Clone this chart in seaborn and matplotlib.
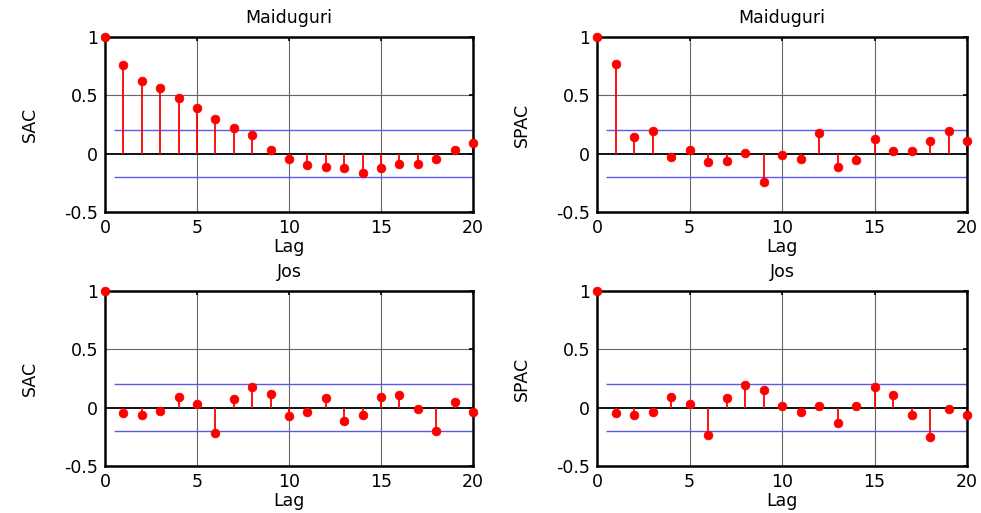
import numpy as np
import pandas as pd
import matplotlib
matplotlib.use('Agg')
import matplotlib.pyplot as plt
import seaborn as sns

sns.set_style('white')
plt.rcParams['font.family'] = ['DejaVu Sans']
plt.rcParams['text.color'] = 'black'
plt.rcParams['axes.labelcolor'] = 'black'

lags = list(range(21))

# Maiduguri
maid_sac = [1.0, 0.76, 0.62, 0.56, 0.48, 0.39, 0.30, 0.22, 0.16, 0.03,
            -0.045, -0.095, -0.11, -0.12, -0.165, -0.12, -0.09, -0.09, -0.045, 0.035, 0.09]
maid_spac = [1.0, 0.77, 0.14, 0.195, -0.025, 0.035, -0.075, -0.065, 0.01, -0.24,
             -0.01, -0.045, 0.175, -0.11, -0.055, 0.13, 0.02, 0.02, 0.11, 0.195, 0.11]

# Jos
jos_sac = [1.0, -0.05, -0.06, -0.03, 0.095, 0.03, -0.22, 0.075, 0.18, 0.115,
           -0.07, -0.04, 0.085, -0.115, -0.06, 0.095, 0.105, -0.015, -0.2, 0.05, -0.035]
jos_spac = [1.0, -0.05, -0.06, -0.035, 0.095, 0.03, -0.235, 0.085, 0.19, 0.15,
            0.01, -0.035, 0.01, -0.135, 0.01, 0.18, 0.105, -0.06, -0.255, -0.015, -0.06]

conf_bound = 0.2

panels = [
    ('Maiduguri', 'SAC', maid_sac),
    ('Maiduguri', 'SPAC', maid_spac),
    ('Jos', 'SAC', jos_sac),
    ('Jos', 'SPAC', jos_spac),
]

fig = plt.figure(figsize=(9.81, 5.13), dpi=100)
W, H = 981, 513
boxes = [(105, 37, 473, 212), (597, 37, 967, 212),
         (105, 291, 473, 466), (597, 291, 967, 466)]

for (title, ylab, vals), (l, t, r, b) in zip(panels, boxes):
    ax = fig.add_axes([l / W, 1 - b / H, (r - l) / W, (b - t) / H])
    df = pd.DataFrame({'Lag': lags, 'val': vals})

    # grid like matlab
    for gx in [5, 10, 15]:
        ax.axvline(gx, color='#666666', lw=0.8, zorder=0)
    ax.axhline(0.5, color='#666666', lw=0.8, zorder=0)

    ax.axhline(0, color='black', lw=1.3, zorder=1)
    ax.hlines([conf_bound, -conf_bound], 0.5, 20, color='#5b5bf0', lw=1.0, zorder=1)
    ax.vlines(df['Lag'], 0, df['val'], color='red', lw=1.3, zorder=2)
    sns.scatterplot(data=df, x='Lag', y='val', color='red', edgecolor='red',
                    s=40, ax=ax, zorder=3, clip_on=False, legend=False)

    ax.set_xlim(0, 20)
    ax.set_ylim(-0.5, 1)
    ax.set_xticks([0, 5, 10, 15, 20])
    ax.set_yticks([-0.5, 0, 0.5, 1])
    ax.set_yticklabels(['-0.5', '0', '0.5', '1'])
    ax.tick_params(direction='in', length=3, width=1.2, labelsize=12.5,
                   top=True, right=True, colors='black')
    ax.tick_params(axis='x', pad=5)
    ax.tick_params(axis='y', pad=5)
    for sp in ax.spines.values():
        sp.set_linewidth(1.8)
        sp.set_color('black')
    ax.set_title(title, fontsize=12.5, pad=10)
    ax.set_xlabel('Lag', fontsize=12.5, labelpad=1)
    ax.set_ylabel(ylab, fontsize=12.5, labelpad=18)

fig.savefig('out.png', dpi=100)
